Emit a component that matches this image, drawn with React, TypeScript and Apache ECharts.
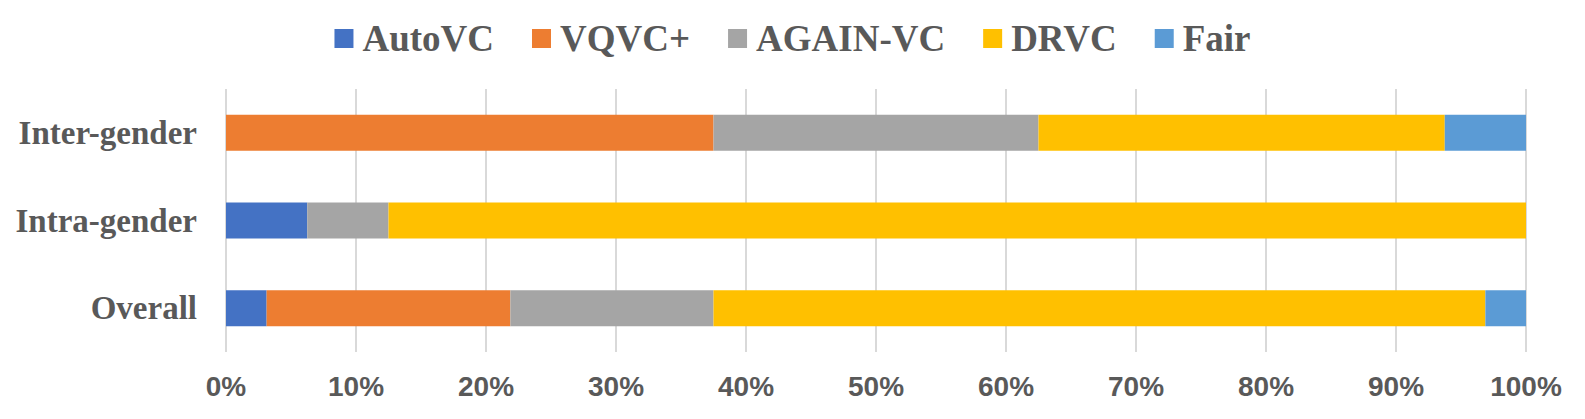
import React, { useEffect, useRef } from "react";
import * as echarts from "echarts";

const categories = ["Overall", "Intra-gender", "Inter-gender"];
const seriesNames = ["AutoVC", "VQVC+", "AGAIN-VC", "DRVC", "Fair"];
const autoVC = [3.125, 6.25, 0];
const vqvcPlus = [18.75, 0, 37.5];
const againVC = [15.625, 6.25, 25];
const drvc = [59.375, 87.5, 31.25];
const fair = [3.125, 0, 6.25];
const colors = ["#4472C4", "#ED7D31", "#A5A5A5", "#FFC000", "#5B9BD5"];

export default function App() {
  const ref = useRef<HTMLDivElement>(null);
  useEffect(() => {
    if (!ref.current) return;
    const chart = echarts.init(ref.current, undefined, { renderer: "svg" });
    const values = [autoVC, vqvcPlus, againVC, drvc, fair];
    chart.setOption({
      animation: false,
      backgroundColor: "#ffffff",
      color: colors,
      legend: {
        top: 15,
        left: "center",
        itemWidth: 19,
        itemHeight: 19,
        itemGap: 38,
        icon: "rect",
        textStyle: {
          fontFamily: "'Liberation Serif', 'Times New Roman', serif",
          fontWeight: "bold",
          fontSize: 37,
          color: "#595959",
          padding: [0, 0, 0, 4],
        },
        data: seriesNames,
      },
      grid: { left: 226, right: 59, top: 89, bottom: 67, containLabel: false },
      xAxis: {
        type: "value",
        min: 0,
        max: 100,
        interval: 10,
        axisLine: { show: false },
        axisTick: { show: false },
        splitLine: { show: true, lineStyle: { color: "#D9D9D9", width: 2 } },
        axisLabel: {
          formatter: "{value}%",
          margin: 20,
          fontFamily: "'Liberation Sans', Arial, sans-serif",
          fontWeight: "bold",
          fontSize: 28,
          color: "#595959",
        },
      },
      yAxis: {
        type: "category",
        data: categories,
        axisLine: { show: false },
        axisTick: { show: false },
        axisLabel: {
          margin: 29,
          fontFamily: "'Liberation Serif', 'Times New Roman', serif",
          fontWeight: "bold",
          fontSize: 33,
          color: "#595959",
        },
      },
      series: seriesNames.map((name, i) => ({
        name,
        type: "bar",
        stack: "total",
        barWidth: 36,
        itemStyle: { color: colors[i] },
        data: values[i],
      })),
    });
    return () => chart.dispose();
  }, []);
  return (
    <div
      ref={ref}
      style={{ position: "fixed", left: 0, top: 0, width: 1585, height: 419 }}
    />
  );
}
